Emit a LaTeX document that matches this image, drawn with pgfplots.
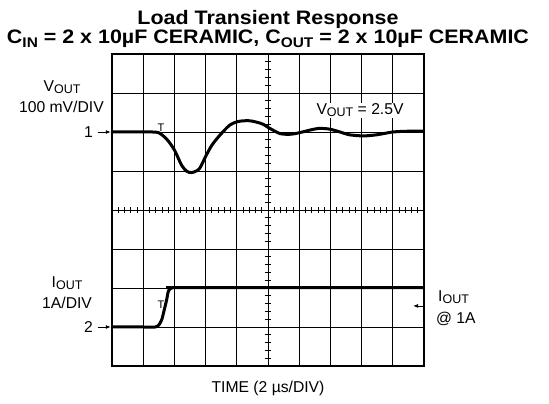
\documentclass[border=0pt]{standalone}
\usepackage{fontspec}
\setmainfont{Liberation Sans}
\usepackage{pgfplots}
\pgfplotsset{compat=1.18}
\usetikzlibrary{arrows.meta}
\newcommand{\lbl}{\fontsize{15.7}{17}\selectfont}
\newcommand{\sub}[1]{\raisebox{-2pt}{\fontsize{12.5}{13}\selectfont #1}}
\newcommand{\tsub}[1]{\raisebox{-4pt}{\fontsize{14}{15}\selectfont #1}}
\begin{document}
\begin{tikzpicture}
\path[use as bounding box] (-112pt,-38pt) rectangle (437pt,366pt);
\begin{axis}[
  at={(0,0)}, anchor=south west,
  scale only axis, width=312pt, height=312pt,
  xmin=0, xmax=10, ymin=0, ymax=8,
  xtick={0,...,10}, ytick={0,...,8},
  xticklabels={}, yticklabels={},
  major tick length=0pt,
  grid=major,
  major grid style={black, line width=0.8pt},
  axis line style={black, line width=1.4pt},
  clip=false,
]
% minor ticks on centre lines
\pgfplotsinvokeforeach{0.2,0.4,0.6,0.8,1.2,1.4,1.6,1.8,2.2,2.4,2.6,2.8,3.2,3.4,3.6,3.8,4.2,4.4,4.6,4.8,5.2,5.4,5.6,5.8,6.2,6.4,6.6,6.8,7.2,7.4,7.6,7.8}{
  \draw[black, line width=0.8pt] (axis cs:4.89,#1) -- (axis cs:5.11,#1);
}
\pgfplotsinvokeforeach{0.2,0.4,0.6,0.8,1.2,1.4,1.6,1.8,2.2,2.4,2.6,2.8,3.2,3.4,3.6,3.8,4.2,4.4,4.6,4.8,5.2,5.4,5.6,5.8,6.2,6.4,6.6,6.8,7.2,7.4,7.6,7.8,8.2,8.4,8.6,8.8,9.2,9.4,9.6,9.8}{
  \draw[black, line width=0.8pt] (axis cs:#1,3.92) -- (axis cs:#1,4.08);
}
% VOUT trace
\addplot[black, line width=3pt, smooth, tension=0.5] coordinates {
(0,6.0) (0.5,6.0) (1.0,6.0) (1.3,6.0) (1.5,5.98) (1.75,5.82) (2.0,5.54)
(2.23,5.15) (2.4,4.99) (2.55,4.96) (2.7,5.0) (2.82,5.08) (3.0,5.37)
(3.2,5.66) (3.46,5.92) (3.78,6.18) (4.05,6.27) (4.37,6.29) (4.6,6.26)
(4.84,6.2) (5.0,6.12) (5.2,6.03) (5.38,5.96) (5.6,5.94) (5.81,5.95)
(6.05,5.99) (6.35,6.05) (6.6,6.09) (6.77,6.09) (7.0,6.07) (7.31,6.0)
(7.6,5.93) (8.05,5.9) (8.5,5.93) (9.0,6.0) (9.5,6.02) (10,6.02)
};
% IOUT trace
\addplot[black, line width=3pt, smooth, tension=0.4] coordinates {
(0,1.0) (1.0,1.0) (1.38,1.0) (1.5,1.05) (1.6,1.2) (1.65,1.36) (1.75,1.69)
(1.8,1.9) (1.86,1.98) (1.95,2.01) (2.2,2.01) (10,2.01)
};
% texts
\node[anchor=base, inner sep=0pt, font=\bfseries\fontsize{19.5}{21}\selectfont] at (axis cs:5,8.75)
  {\scalebox{1.1}[1]{Load Transient Response}};
\node[anchor=base, inner sep=0pt, font=\bfseries\fontsize{19.5}{21}\selectfont] at (axis cs:5,8.265)
  {\scalebox{1.1}[1]{C\tsub{IN} = 2 x 10µF CERAMIC, C\tsub{OUT} = 2 x 10µF CERAMIC}};
\node[anchor=base, font=\lbl] at (axis cs:-1.60,7.04) {V\sub{OUT}};
\node[anchor=base, font=\lbl] at (axis cs:-1.62,6.495) {100 mV/DIV};
\node[anchor=east, font=\lbl] at (axis cs:-0.50,6.0) {1};
\draw[-{Latex[length=5pt,width=4pt]}, line width=0.8pt] (axis cs:-0.46,6.0) -- (axis cs:-0.04,6.0);
\node[anchor=base, font=\lbl] at (axis cs:-1.44,2.02) {I\sub{OUT}};
\node[anchor=base, font=\lbl] at (axis cs:-1.44,1.48) {1A/DIV};
\node[anchor=east, font=\lbl] at (axis cs:-0.50,1.0) {2};
\draw[-{Latex[length=5pt,width=4pt]}, line width=0.8pt] (axis cs:-0.46,1.0) -- (axis cs:-0.04,1.0);
\node[anchor=base, font=\lbl, fill=white, inner sep=1pt] at (axis cs:7.95,6.44) {V\sub{OUT} = 2.5V};
\node[anchor=base west, font=\lbl, inner sep=0pt] at (axis cs:10.45,1.65) {I\sub{OUT}};
\node[anchor=base west, font=\lbl, inner sep=0pt] at (axis cs:10.38,1.09) {@ 1A};
\draw[-{Latex[length=5pt,width=4pt]}, line width=0.8pt] (axis cs:9.97,1.54) -- (axis cs:9.65,1.54);
\node[font=\fontsize{11}{12}\selectfont, inner sep=0pt] at (axis cs:1.57,6.10) {T};
\node[font=\fontsize{11}{12}\selectfont, inner sep=0pt] at (axis cs:1.57,1.56) {T};
\node[anchor=base, font=\lbl] at (axis cs:5,-0.685) {TIME (2 µs/DIV)};
\end{axis}
\end{tikzpicture}
\end{document}
